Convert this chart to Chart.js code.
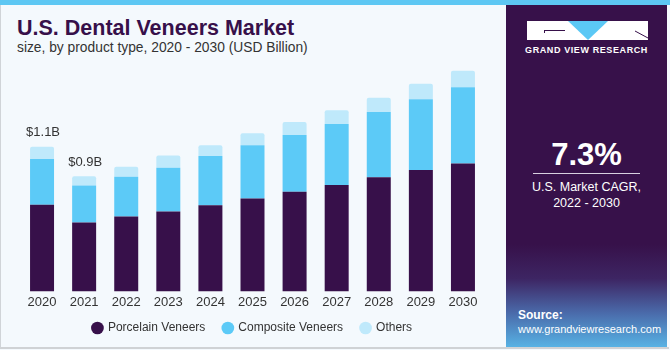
<!DOCTYPE html>
<html>
<head>
<meta charset="utf-8">
<script src="https://cdn.jsdelivr.net/npm/chart.js@4"></script>
<style>
  body { margin: 0; width: 670px; height: 350px; overflow: hidden; background: #fff; font-family: "Liberation Sans", Arial, sans-serif; }
  #wrap { position: absolute; left: 0; top: 0; width: 670px; height: 350px; overflow: hidden; background: #f4f9fd; }
  #stripe { position: absolute; left: 0; top: 0; width: 670px; height: 5px; background: #5dc7f3; }
  #frame { position: absolute; left: 0; top: 5px; width: 668px; height: 342px; border-left: 1px solid #d0d4d8; border-bottom: 2px solid #cfd2d5; }
  #title { position: absolute; left: 17px; top: 16px; font-size: 21.5px; font-weight: bold; color: #37104a; }
  #sub { position: absolute; left: 17px; top: 40px; font-size: 13.8px; color: #333; }
  #side { position: absolute; left: 506px; top: 5px; width: 161px; height: 342px;
    background: linear-gradient(to bottom, #37114a 0%, #37114a 70%, #3d2563 80%, #4a6aaa 90%, #57b2e4 100%); }
  #chartBox { position: absolute; left: 0; top: 60px; width: 500px; height: 297px; }
  .w { position: absolute; color: #fff; }
</style>
</head>
<body>
<div id="wrap">
  <div id="stripe"></div>
  <div id="frame"></div>
  <div id="title">U.S. Dental Veneers Market</div>
  <div id="sub">size, by product type, 2020 - 2030 (USD Billion)</div>
  <div id="side">
    <svg style="position:absolute;left:21px;top:16px" width="122" height="20">
      <rect x="0" y="0" width="121" height="19" fill="#fff"/>
      <polygon points="41,0 81,0 61,19" fill="#5bc8f5"/>
      <line x1="17" y1="9.5" x2="38" y2="9.5" stroke="#37114a" stroke-width="1"/>
      <line x1="17.5" y1="9.5" x2="17.5" y2="12" stroke="#37114a" stroke-width="1"/>
      <line x1="108" y1="10" x2="121" y2="17" stroke="#37114a" stroke-width="1"/>
    </svg>
    <div class="w" style="left:0;top:40px;width:161px;text-align:center;font-size:9px;font-weight:bold;letter-spacing:0.6px;">GRAND VIEW RESEARCH</div>
    <div class="w" style="left:0;top:132px;width:161px;text-align:center;font-size:31px;font-weight:bold;">7.3%</div>
    <div style="position:absolute;left:27px;top:168px;width:107px;height:1px;background:#d8d0e0;"></div>
    <div class="w" style="left:0;top:174px;width:161px;text-align:center;font-size:12.5px;line-height:16px;">U.S. Market CAGR,<br>2022 - 2030</div>
    <div class="w" style="left:12px;top:303px;font-size:12px;font-weight:bold;">Source:</div>
    <div class="w" style="left:12px;top:318px;font-size:11px;">www.grandviewresearch.com</div>
  </div>
  <div id="chartBox"><canvas id="myChart"></canvas></div>
</div>
<script>
const years = ['2020', '2021', '2022', '2023', '2024', '2025', '2026', '2027', '2028', '2029', '2030'];
const porcelain = [0.659, 0.525, 0.570, 0.608, 0.656, 0.706, 0.759, 0.810, 0.868, 0.924, 0.974];
const composite = [0.348, 0.280, 0.303, 0.333, 0.375, 0.407, 0.432, 0.464, 0.497, 0.538, 0.580];
const others = [0.093, 0.071, 0.076, 0.094, 0.081, 0.091, 0.098, 0.104, 0.109, 0.119, 0.126];
const totalLabels = ['$1.1B', '$0.9B'];

const topLabels = {
    id: 'topLabels',
    afterDatasetsDraw(chart) {
        const ctx = chart.ctx;
        const meta = chart.getDatasetMeta(2);
        ctx.save();
        ctx.font = '13px "Liberation Sans", Arial, sans-serif';
        ctx.fillStyle = '#333';
        ctx.textAlign = 'center';
        ctx.textBaseline = 'middle';
        totalLabels.forEach((t, i) => {
            const el = meta.data[i];
            ctx.fillText(t, el.x + 1, el.y - 14);
        });
        ctx.restore();
    }
};

// pull the legend up closer to the year labels
const legendShift = {
    id: 'legendShift',
    afterLayout(chart) {
        chart.legend.top -= 9;
        chart.legend.bottom -= 9;
    }
};

const ctx = document.getElementById('myChart').getContext('2d');
const myChart = new Chart(ctx, {
    type: 'bar',
    data: {
        labels: years,
        datasets: [{
            label: 'Porcelain Veneers',
            data: porcelain,
            backgroundColor: '#37104a'
        }, {
            label: 'Composite Veneers',
            data: composite,
            backgroundColor: '#5ccaf7'
        }, {
            label: 'Others',
            data: others,
            backgroundColor: '#bfe9fb',
            borderRadius: { topLeft: 2, topRight: 2 },
            borderSkipped: 'bottom'
        }]
    },
    options: {
        responsive: true,
        maintainAspectRatio: false,
        animation: false,
        datasets: { bar: { categoryPercentage: 1, barPercentage: 0.57 } },
        layout: { padding: { left: 21, right: 16, top: 8, bottom: 4 } },
        scales: {
            x: {
                stacked: true,
                grid: { display: false, drawTicks: false },
                border: { display: false },
                ticks: { color: '#333', font: { size: 13, family: '"Liberation Sans", Arial, sans-serif' }, padding: 3 }
            },
            y: {
                stacked: true,
                display: false,
                min: 0,
                max: 1.7
            }
        },
        plugins: {
            tooltip: { enabled: false },
            legend: {
                position: 'bottom',
                labels: {
                    usePointStyle: true,
                    pointStyle: 'circle',
                    boxWidth: 9,
                    boxHeight: 9,
                    padding: 18,
                    color: '#333',
                    font: { size: 12, family: '"Liberation Sans", Arial, sans-serif' }
                }
            }
        }
    },
    plugins: [topLabels, legendShift]
});
</script>
</body>
</html>
